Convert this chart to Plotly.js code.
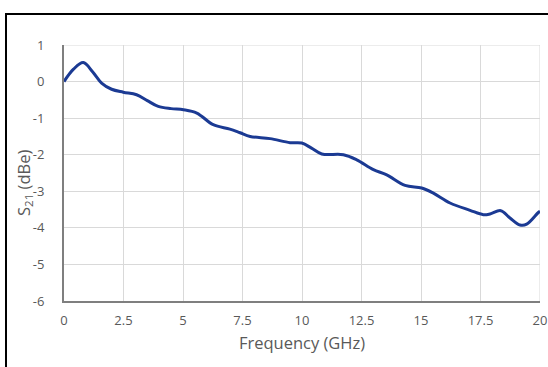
<!DOCTYPE html>
<html>
<head>
<meta charset="utf-8">
<script src="https://cdn.plot.ly/plotly-3.0.1.min.js"></script>
<style>
  html, body { margin: 0; padding: 0; background: #fff; overflow: hidden; }
  #chart { position: absolute; left: 0; top: 0; width: 548px; height: 367px; }
  #frame { position: absolute; left: 5px; top: 13px; width: 600px; height: 400px;
           border: 2.5px solid #000; pointer-events: none; }
</style>
</head>
<body>
<div id="chart"></div>
<div id="frame"></div>
<script>
const freqGHz = [0, 0.4, 0.81, 1.2, 1.58, 2.0, 2.49, 3.05, 3.5, 3.96, 4.5, 5.02, 5.58, 6.27, 6.97, 7.4, 7.82, 8.66, 9.5, 9.99, 10.4, 10.83, 11.74, 12.3, 13.0, 13.56, 14.33, 15.03, 15.52, 16.22, 17.06, 17.62, 17.9, 18.35, 18.74, 19.16, 19.44, 19.93, 20];
const s21dBe  = [0, 0.34, 0.52, 0.27, -0.04, -0.21, -0.29, -0.36, -0.52, -0.68, -0.74, -0.77, -0.86, -1.18, -1.30, -1.40, -1.50, -1.56, -1.67, -1.68, -1.82, -1.98, -2.00, -2.14, -2.41, -2.55, -2.84, -2.91, -3.05, -3.32, -3.52, -3.64, -3.62, -3.53, -3.73, -3.92, -3.90, -3.58, -3.55];
const xTicks = [0, 2.5, 5, 7.5, 10, 12.5, 15, 17.5, 20];
const xTickText = ['0', '2.5', '5', '7.5', '10', '12.5', '15', '17.5', '20'];
const yTicks = [1, 0, -1, -2, -3, -4, -5, -6];
const yTickText = ['1', '0', '-1', '-2', '-3', '-4', '-5', '-6'];

const trace = {
  x: freqGHz, y: s21dBe, type: 'scatter', mode: 'lines',
  line: { color: '#1b3a93', width: 3, shape: 'spline', smoothing: 1 },
  hoverinfo: 'skip'
};

const font = "'Open Sans', 'Noto Sans', sans-serif";
const layout = {
  width: 548, height: 367,
  margin: { l: 64, r: 8, t: 45, b: 66 },
  paper_bgcolor: '#fff', plot_bgcolor: '#fff',
  showlegend: false,
  font: { family: font, color: '#595959', size: 13 },
  xaxis: {
    range: [0, 20], tickvals: xTicks, ticktext: xTickText,
    showgrid: true, gridcolor: '#d9d9d9', gridwidth: 1,
    showline: true, linecolor: '#7f7f7f', linewidth: 2,
    zeroline: false, ticks: '', ticklabelstandoff: 6,
    tickfont: { family: font, size: 13, color: '#595959' },
    title: { text: 'Frequency (GHz)', font: { family: font, size: 16.5, color: '#595959' }, standoff: 10 },
    fixedrange: true
  },
  yaxis: {
    range: [-6, 1], tickvals: yTicks, ticktext: yTickText,
    showgrid: true, gridcolor: '#d9d9d9', gridwidth: 1,
    showline: true, linecolor: '#7f7f7f', linewidth: 2,
    zeroline: false, ticks: '', ticklabelstandoff: 15,
    tickfont: { family: font, size: 13, color: '#595959' },
    fixedrange: true
  },
  annotations: [
    { text: 'S<sub>21</sub> (dBe)', xref: 'paper', yref: 'paper', x: 0, y: 0.5,
      xanchor: 'center', yanchor: 'middle', xshift: -40, yshift: -10, textangle: -90,
      showarrow: false, font: { family: font, size: 16.5, color: '#595959' } }
  ],
  shapes: [
    { type: 'line', xref: 'x', yref: 'y', x0: 0, x1: 20, y0: 1, y1: 1, line: { color: '#d9d9d9', width: 1 }, layer: 'below' },
    { type: 'line', xref: 'x', yref: 'y', x0: 20, x1: 20, y0: -6, y1: 1, line: { color: '#d9d9d9', width: 1 }, layer: 'below' }
  ]
};

Plotly.newPlot('chart', [trace], layout, { displayModeBar: false, staticPlot: true });
</script>
</body>
</html>
